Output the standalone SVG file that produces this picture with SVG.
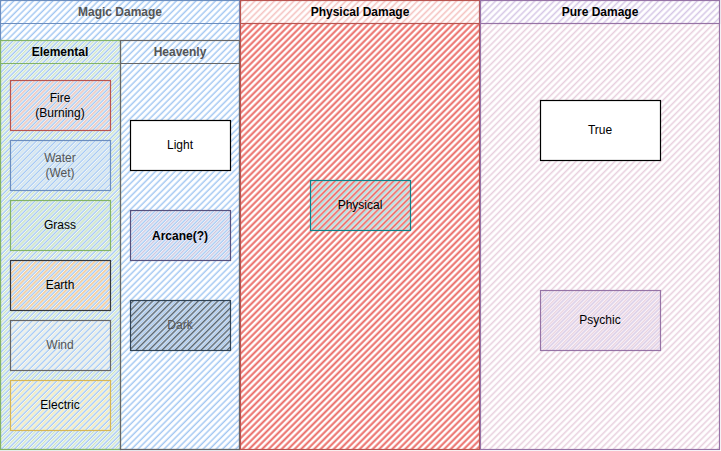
<svg xmlns="http://www.w3.org/2000/svg" width="721" height="451" viewBox="0 0 721 451">
<defs>
<pattern id="hBlue" width="4.6" height="4.6" patternUnits="userSpaceOnUse" patternTransform="rotate(45)"><line x1="1.2" y1="0" x2="1.2" y2="4.6" stroke="#a3c7f2" stroke-width="1.5"/></pattern>
<pattern id="hGreen" width="4.6" height="4.6" patternUnits="userSpaceOnUse" patternTransform="rotate(45)"><line x1="3.4" y1="0" x2="3.4" y2="4.6" stroke="#cbe3c0" stroke-width="1.3"/></pattern>
<pattern id="hRedBody" width="4.6" height="4.6" patternUnits="userSpaceOnUse" patternTransform="rotate(45)"><line x1="1.5" y1="0" x2="1.5" y2="4.6" stroke="#ea6b66" stroke-width="2"/></pattern>
<pattern id="hRedHead" width="4.6" height="4.6" patternUnits="userSpaceOnUse" patternTransform="rotate(45)"><line x1="1.5" y1="0" x2="1.5" y2="4.6" stroke="#f4c2c0" stroke-width="1.6"/></pattern>
<pattern id="hPurpleHead" width="4.6" height="4.6" patternUnits="userSpaceOnUse" patternTransform="rotate(45)"><line x1="1.5" y1="0" x2="1.5" y2="4.6" stroke="#d6c8e6" stroke-width="1.6"/></pattern>
<pattern id="hPink" width="4.6" height="4.6" patternUnits="userSpaceOnUse" patternTransform="rotate(45)"><line x1="1.5" y1="0" x2="1.5" y2="4.6" stroke="#e8d0de" stroke-width="1.6"/></pattern>
<pattern id="hFire" width="4.6" height="4.6" patternUnits="userSpaceOnUse" patternTransform="rotate(45)"><line x1="3.4" y1="0" x2="3.4" y2="4.6" stroke="#f4c6c4" stroke-width="1.5"/></pattern>
<pattern id="hWater" width="4.6" height="4.6" patternUnits="userSpaceOnUse" patternTransform="rotate(45)"><line x1="3.4" y1="0" x2="3.4" y2="4.6" stroke="#d4e4f8" stroke-width="1.5"/></pattern>
<pattern id="hGrass" width="4.6" height="4.6" patternUnits="userSpaceOnUse" patternTransform="rotate(45)"><line x1="3.4" y1="0" x2="3.4" y2="4.6" stroke="#d0e6cc" stroke-width="1.5"/></pattern>
<pattern id="hEarth" width="4.6" height="4.6" patternUnits="userSpaceOnUse" patternTransform="rotate(45)"><line x1="3.4" y1="0" x2="3.4" y2="4.6" stroke="#fac898" stroke-width="1.5"/></pattern>
<pattern id="hWind" width="4.6" height="4.6" patternUnits="userSpaceOnUse" patternTransform="rotate(45)"><line x1="3.4" y1="0" x2="3.4" y2="4.6" stroke="#efefef" stroke-width="1.5"/></pattern>
<pattern id="hElectric" width="4.6" height="4.6" patternUnits="userSpaceOnUse" patternTransform="rotate(45)"><line x1="3.4" y1="0" x2="3.4" y2="4.6" stroke="#faedc0" stroke-width="1.5"/></pattern>
<pattern id="hArcane" width="4.6" height="4.6" patternUnits="userSpaceOnUse" patternTransform="rotate(45)"><line x1="3.4" y1="0" x2="3.4" y2="4.6" stroke="#c9c6df" stroke-width="1.5"/></pattern>
<pattern id="hDark" width="4.6" height="4.6" patternUnits="userSpaceOnUse" patternTransform="rotate(45)"><line x1="3.4" y1="0" x2="3.4" y2="4.6" stroke="#56687a" stroke-width="1.7"/></pattern>
<pattern id="hPhys" width="4.6" height="4.6" patternUnits="userSpaceOnUse" patternTransform="rotate(45)"><line x1="3.6" y1="0" x2="3.6" y2="4.6" stroke="#a8dde0" stroke-width="1.5"/></pattern>
<pattern id="hPsychic" width="4.6" height="4.6" patternUnits="userSpaceOnUse" patternTransform="rotate(45)"><line x1="3.6" y1="0" x2="3.6" y2="4.6" stroke="#d9cbe6" stroke-width="1.5"/></pattern>
</defs>
<style>
text{font-family:"Liberation Sans",Arial,sans-serif;font-size:12px;text-anchor:middle;dominant-baseline:central;fill:#000}
.b{font-weight:bold}
.g{fill:#555}
rect{stroke-width:1.2}
</style>
<rect x="0" y="0" width="721" height="451" fill="#fff"/>
<g id="magic-pool">
<rect x="0.5" y="0.5" width="239" height="449" fill="url(#hBlue)" stroke="#6c8ebf"/>
<line x1="0.5" y1="23.5" x2="239.5" y2="23.5" stroke="#6c8ebf" stroke-width="1.2"/>
<text x="120" y="12" class="b g">Magic Damage</text>
</g>
<g id="elemental-lane">
<rect x="0.5" y="40.5" width="120" height="409" fill="url(#hGreen)" stroke="#82b366"/>
<line x1="0.5" y1="63.5" x2="120.5" y2="63.5" stroke="#82b366" stroke-width="1.2"/>
<text x="60" y="52" class="b">Elemental</text>
</g>
<g id="heavenly-lane">
<rect x="120.5" y="40.5" width="119" height="409" fill="none" stroke="#666"/>
<line x1="120.5" y1="63.5" x2="239.5" y2="63.5" stroke="#666" stroke-width="1.2"/>
<text x="180" y="52" class="b g">Heavenly</text>
</g>
<g id="physical-pool">
<rect x="240.5" y="0.5" width="239" height="449" fill="url(#hRedBody)" stroke="#b85450"/>
<rect x="240.5" y="0.5" width="239" height="23" fill="#fff" stroke="none"/>
<rect x="240.5" y="0.5" width="239" height="23" fill="url(#hRedHead)" stroke="#b85450"/>
<text x="360" y="12" class="b">Physical Damage</text>
</g>
<g id="pure-pool">
<rect x="480.5" y="0.5" width="239" height="449" fill="url(#hPink)" stroke="#9673a6"/>
<rect x="480.5" y="0.5" width="239" height="23" fill="#fff" stroke="none"/>
<rect x="480.5" y="0.5" width="239" height="23" fill="url(#hPurpleHead)" stroke="#9673a6"/>
<text x="600" y="12" class="b">Pure Damage</text>
</g>
<g id="fire"><rect x="10.5" y="80.5" width="100" height="50" fill="url(#hFire)" stroke="#b85450"/><text x="60" y="98">Fire</text><text x="60" y="113">(Burning)</text></g>
<g id="water"><rect x="10.5" y="140.5" width="100" height="50" fill="url(#hWater)" stroke="#6c8ebf"/><text x="60" y="158" class="g">Water</text><text x="60" y="173" class="g">(Wet)</text></g>
<g id="grass"><rect x="10.5" y="200.5" width="100" height="50" fill="url(#hGrass)" stroke="#82b366"/><text x="60" y="225">Grass</text></g>
<g id="earth"><rect x="10.5" y="260.5" width="100" height="50" fill="url(#hEarth)" stroke="#36393d"/><text x="60" y="285">Earth</text></g>
<g id="wind"><rect x="10.5" y="320.5" width="100" height="50" fill="url(#hWind)" stroke="#666"/><text x="60" y="345" class="g">Wind</text></g>
<g id="electric"><rect x="10.5" y="380.5" width="100" height="50" fill="url(#hElectric)" stroke="#d6b656"/><text x="60" y="405">Electric</text></g>
<g id="light"><rect x="130.5" y="120.5" width="100" height="50" fill="#fff" stroke="#000"/><text x="180" y="145">Light</text></g>
<g id="arcane"><rect x="130.5" y="210.5" width="100" height="50" fill="url(#hArcane)" stroke="#56517e"/><text x="180" y="236" class="b">Arcane(?)</text></g>
<g id="dark"><rect x="130.5" y="300.5" width="100" height="50" fill="url(#hDark)" stroke="#314354"/><text x="180" y="325" class="g">Dark</text></g>
<g id="physical"><rect x="310.5" y="180.5" width="100" height="50" fill="url(#hPhys)" stroke="#0e8088"/><text x="360" y="205">Physical</text></g>
<g id="true"><rect x="540.5" y="100.5" width="120" height="60" fill="#fff" stroke="#000"/><text x="600" y="130">True</text></g>
<g id="psychic"><rect x="540.5" y="290.5" width="120" height="60" fill="url(#hPsychic)" stroke="#9673a6"/><text x="600" y="320">Psychic</text></g>
<g id="connectors"></g>
</svg>
